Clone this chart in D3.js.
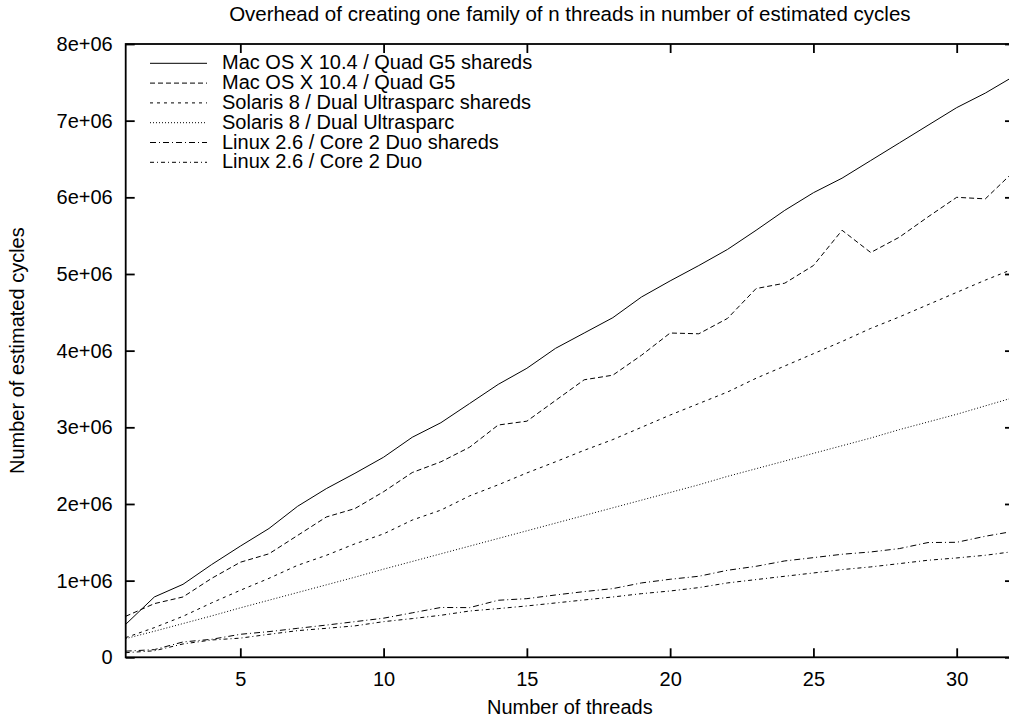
<!DOCTYPE html>
<html>
<head>
<meta charset="utf-8">
<script src="https://cdn.jsdelivr.net/npm/d3@7"></script>
<style>
  body { margin: 0; background: #fff; }
  svg { display: block; font-family: "Liberation Sans", Arial, Helvetica, sans-serif; }
  .axis text { font-size: 20px; fill: #000; }
  .axis line { stroke: #000; stroke-width: 1.8; }
  .axis path { display: none; }
</style>
</head>
<body>
<div class="chart-container"></div>
<script>
/* Overhead of creating one family of n threads
   ========================================================================== */

// Data
var threads = d3.range(1, 33);

var macShareds = [0.43e6, 0.787e6, 0.952e6, 1.21e6, 1.45e6, 1.68e6, 1.97e6, 2.20e6,
    2.40e6, 2.61e6, 2.87e6, 3.06e6, 3.31e6, 3.56e6, 3.77e6, 4.03e6,
    4.23e6, 4.43e6, 4.70e6, 4.91e6, 5.11e6, 5.32e6, 5.57e6, 5.83e6,
    6.06e6, 6.25e6, 6.48e6, 6.71e6, 6.94e6, 7.17e6, 7.36e6, 7.58e6];
var mac = [0.535e6, 0.70e6, 0.787e6, 1.03e6, 1.24e6, 1.35e6, 1.59e6, 1.83e6,
    1.94e6, 2.16e6, 2.41e6, 2.55e6, 2.74e6, 3.03e6, 3.08e6, 3.35e6,
    3.62e6, 3.68e6, 3.94e6, 4.23e6, 4.22e6, 4.42e6, 4.81e6, 4.88e6,
    5.11e6, 5.57e6, 5.28e6, 5.48e6, 5.745e6, 6.00e6, 5.98e6, 6.34e6];
var solarisShareds = [0.257e6, 0.387e6, 0.535e6, 0.71e6, 0.874e6, 1.03e6, 1.20e6, 1.33e6,
    1.48e6, 1.61e6, 1.79e6, 1.92e6, 2.105e6, 2.25e6, 2.405e6, 2.55e6,
    2.70e6, 2.84e6, 3.00e6, 3.16e6, 3.31e6, 3.46e6, 3.64e6, 3.80e6,
    3.96e6, 4.12e6, 4.29e6, 4.44e6, 4.60e6, 4.76e6, 4.92e6, 5.07e6];
var solaris = [0.244e6, 0.34e6, 0.44e6, 0.54e6, 0.645e6, 0.745e6, 0.845e6, 0.945e6,
    1.045e6, 1.15e6, 1.25e6, 1.35e6, 1.45e6, 1.55e6, 1.65e6, 1.75e6,
    1.85e6, 1.95e6, 2.05e6, 2.15e6, 2.25e6, 2.36e6, 2.46e6, 2.56e6,
    2.66e6, 2.76e6, 2.86e6, 2.97e6, 3.07e6, 3.17e6, 3.28e6, 3.39e6];
var linuxShareds = [0.08e6, 0.10e6, 0.20e6, 0.235e6, 0.30e6, 0.335e6, 0.378e6, 0.42e6,
    0.465e6, 0.51e6, 0.58e6, 0.65e6, 0.648e6, 0.744e6, 0.765e6, 0.813e6,
    0.857e6, 0.896e6, 0.97e6, 1.018e6, 1.057e6, 1.135e6, 1.187e6, 1.257e6,
    1.30e6, 1.344e6, 1.374e6, 1.418e6, 1.497e6, 1.50e6, 1.579e6, 1.645e6];
var linux = [0.06e6, 0.085e6, 0.174e6, 0.226e6, 0.25e6, 0.30e6, 0.348e6, 0.378e6,
    0.41e6, 0.465e6, 0.505e6, 0.548e6, 0.604e6, 0.635e6, 0.67e6, 0.709e6,
    0.748e6, 0.787e6, 0.83e6, 0.865e6, 0.909e6, 0.97e6, 1.014e6, 1.057e6,
    1.10e6, 1.144e6, 1.179e6, 1.222e6, 1.266e6, 1.296e6, 1.331e6, 1.38e6];

var seriesNames = ["Mac OS X 10.4 / Quad G5 shareds", "Mac OS X 10.4 / Quad G5",
    "Solaris 8 / Dual Ultrasparc shareds", "Solaris 8 / Dual Ultrasparc",
    "Linux 2.6 / Core 2 Duo shareds", "Linux 2.6 / Core 2 Duo"];
var seriesValues = [macShareds, mac, solarisShareds, solaris, linuxShareds, linux];
var xTicks = [5, 10, 15, 20, 25, 30];
var yTicks = [0, 1e6, 2e6, 3e6, 4e6, 5e6, 6e6, 7e6, 8e6];

// Line styles (gnuplot-like dash types)
var dashes = ["none", "5,3", "3,4", "1,2", "6,3,1,3", "4,3,1,3"];

// Set Margin (plot box runs off the right edge like the original)
var W = 1009, H = 720;
var margin = { top: 44, left: 125.7, right: 1014, bottom: 657.3 };

// Set Range
var x = d3.scaleLinear().domain([1, 32]).range([margin.left, margin.right]);
var y = d3.scaleLinear().domain([0, 8e6]).range([margin.bottom, margin.top]);

var svg = d3.select(".chart-container").append("svg")
    .attr("width", W)
    .attr("height", H);

svg.append("rect").attr("width", W).attr("height", H).attr("fill", "#fff");

// Title
svg.append("text")
    .attr("x", (margin.left + margin.right) / 2)
    .attr("y", 21)
    .attr("text-anchor", "middle")
    .style("font-size", "20.5px")
    .text("Overhead of creating one family of n threads in number of estimated cycles");

var yFormat = function(d) { return d === 0 ? "0" : (d / 1e6) + "e+06"; };

// Axes (ticks point inward, mirrored on top/right)
svg.append("g")
    .attr("class", "axis")
    .attr("transform", "translate(" + margin.left + ",0)")
    .call(d3.axisLeft(y).tickValues(yTicks).tickFormat(yFormat)
        .tickSizeInner(-9).tickSizeOuter(0).tickPadding(13));

svg.append("g")
    .attr("class", "axis")
    .attr("transform", "translate(" + margin.right + ",0)")
    .call(d3.axisRight(y).tickValues(yTicks).tickFormat("")
        .tickSizeInner(-9).tickSizeOuter(0));

svg.append("g")
    .attr("class", "axis")
    .attr("transform", "translate(0," + margin.bottom + ")")
    .call(d3.axisBottom(x).tickValues(xTicks).tickFormat(d3.format("d"))
        .tickSizeInner(-9).tickSizeOuter(0).tickPadding(14.5));

svg.append("g")
    .attr("class", "axis")
    .attr("transform", "translate(0," + margin.top + ")")
    .call(d3.axisTop(x).tickValues(xTicks).tickFormat("")
        .tickSizeInner(-9).tickSizeOuter(0));

// Border
svg.append("rect")
    .attr("x", margin.left)
    .attr("y", margin.top)
    .attr("width", margin.right - margin.left)
    .attr("height", margin.bottom - margin.top)
    .attr("fill", "none")
    .attr("stroke", "#000")
    .attr("stroke-width", 1.8);

// Axis labels
svg.append("text")
    .attr("x", (margin.left + margin.right) / 2)
    .attr("y", 714)
    .attr("text-anchor", "middle")
    .style("font-size", "20px")
    .text("Number of threads");

svg.append("text")
    .attr("transform", "translate(24," + (margin.top + margin.bottom) / 2 + ") rotate(-90)")
    .attr("text-anchor", "middle")
    .style("font-size", "20px")
    .text("Number of estimated cycles");

// Lines
var line = d3.line()
    .x(function(d, i) { return x(threads[i]); })
    .y(function(d) { return y(d); });

svg.selectAll(".series")
    .data(seriesValues)
    .enter().append("path")
    .attr("class", "series")
    .attr("d", line)
    .attr("fill", "none")
    .attr("stroke", "#000")
    .attr("stroke-width", 1)
    .attr("stroke-dasharray", function(d, i) { return dashes[i]; });

// Legend
var legend = svg.selectAll(".legend")
    .data(seriesNames)
    .enter().append("g")
    .attr("class", "legend")
    .attr("transform", function(d, i) { return "translate(0," + (69.3 + i * 19.8) + ")"; });

legend.append("line")
    .attr("x1", 150).attr("x2", 207)
    .attr("y1", -6).attr("y2", -6)
    .attr("stroke", "#000")
    .attr("stroke-width", 1)
    .attr("stroke-dasharray", function(d, i) { return dashes[i]; });

legend.append("text")
    .attr("x", 222)
    .style("font-size", "20px")
    .text(function(d) { return d; });
</script>
</body>
</html>
